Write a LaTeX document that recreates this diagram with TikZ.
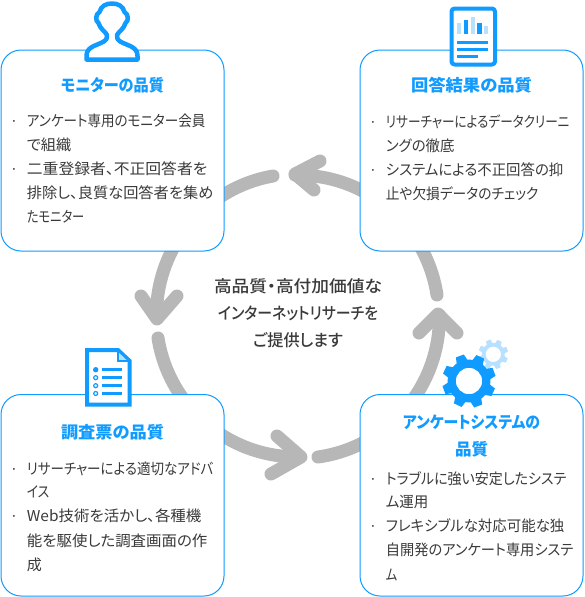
\documentclass[tikz,border=0pt]{standalone}
\usepackage{graphicx}
\usepackage{fontspec}
\setmainfont[RawFeature=+palt]{Noto Sans CJK JP}
\newfontfamily\qmedium[RawFeature=+palt]{Noto Sans CJK JP Medium}
\definecolor{qblue}{HTML}{0F9BFF}
\definecolor{qpale}{HTML}{B8E0FF}
\definecolor{qgray}{HTML}{B7B7B7}
\definecolor{qtext}{HTML}{3A3A3A}
\tikzset{
  x=1pt,y=-1pt,
  card/.style={draw=qblue,line width=1pt,fill=white,rounded corners=20pt},
  loopline/.style={draw=qgray,line width=13pt,line cap=round,line join=round},
  icon/.style={draw=qblue,line width=4.5pt,fill=white,line join=round,line cap=round},
  title/.style={text=qblue,font=\fontsize{16.5}{18}\selectfont\bfseries,anchor=base,inner sep=0pt},
  body/.style={text=qtext,font=\fontsize{15}{18}\selectfont,anchor=base west,inner sep=0pt},
  dotmark/.style={text=qtext,font=\fontsize{14}{18}\selectfont,anchor=base,inner sep=0pt},
  centertext/.style={text=qtext,font=\fontsize{16.5}{20}\selectfont\qmedium,anchor=base,inner sep=0pt},
}
\newsavebox{\qbox}
\newcommand{\fitw}[2]{\sbox{\qbox}{#2}\pgfmathsetmacro{\qratio}{#1/\wd\qbox}\scalebox{\qratio}[1]{\usebox{\qbox}}}
\newcommand{\qgear}[6]{% x,y,outer,root,hole,colour
  \begin{scope}[shift={(#1,#2)}]
    \fill[#6,even odd rule]
      (20-15:#4 pt)
      \foreach \a in {20,65,...,335}{
        -- (\a-15:#4 pt) -- (\a-9:#3 pt) -- (\a+9:#3 pt) -- (\a+15:#4 pt)
      } -- cycle
      (0,0) circle[radius=#5 pt];
  \end{scope}}
\begin{document}
\begin{tikzpicture}
\useasboundingbox (0,0) rectangle (584,597);
% loop
\coordinate (a1) at (273,176);
\coordinate (a2) at (158,338);
\coordinate (a3) at (318,457);
\coordinate (a4) at (437,295);
\draw[loopline] (a1) arc[start angle=100,end angle=181,radius=141pt];
\draw[loopline] (a2) arc[start angle=189,end angle=271,radius=141pt];
\draw[loopline] (a3) arc[start angle=278,end angle=361,radius=141pt];
\draw[loopline] (a4) arc[start angle=8.6,end angle=91,radius=141pt];
\coordinate (h1a) at (320,161); \coordinate (h1t) at (295,174); \coordinate (h1b) at (314,190);
\coordinate (h2a) at (141,296); \coordinate (h2t) at (157,319); \coordinate (h2b) at (177,296);
\coordinate (h3a) at (277,436); \coordinate (h3t) at (301,457); \coordinate (h3b) at (271,474);
\coordinate (h4a) at (419,333); \coordinate (h4t) at (438,314); \coordinate (h4b) at (457,333);
\draw[loopline] (h1a) -- (h1t) -- (h1b);
\draw[loopline] (h2a) -- (h2t) -- (h2b);
\draw[loopline] (h3a) -- (h3t) -- (h3b);
\draw[loopline] (h4a) -- (h4t) -- (h4b);
% cards
\draw[card] (1,50) rectangle (224,251);
\draw[card] (360,50) rectangle (583,251);
\draw[card] (1,394.5) rectangle (224,596);
\draw[card] (360,394.5) rectangle (583,596);
% person icon
\draw[icon] (112,3.5)
  .. controls (118,3.5) and (123,6) .. (124.5,12)
  .. controls (128.5,14) and (129,21) .. (125.5,23)
  .. controls (124,29) and (119,31) .. (117,35)
  .. controls (116,38) and (118,40) .. (121,42)
  .. controls (129,46) and (137.5,47) .. (137.5,56)
  -- (137.5,59.5) -- (86.5,59.5) -- (86.5,56)
  .. controls (86.5,47) and (95,46) .. (103,42)
  .. controls (106,40) and (108,38) .. (107,35)
  .. controls (105,31) and (100,29) .. (98.5,23)
  .. controls (95,21) and (95.5,14) .. (99.5,12)
  .. controls (101,6) and (106,3.5) .. (112,3.5) -- cycle;
% report icon
\draw[icon,line width=4pt,rounded corners=3pt] (451.5,8.5) rectangle (495,64.5);
\foreach \x/\t/\b/\c in {459/23/34/qpale,466/20/34/qblue,473/17/34/qpale,479.5/23/34/qblue,486/26/34/qpale}
  \fill[\c] (\x-2.2,\t) rectangle (\x+2.2,\b);
\fill[qblue] (457,41) rectangle (488,44);
\fill[qblue] (457,48) rectangle (488,51);
\fill[qblue] (457,55) rectangle (478,58);
% questionnaire icon
\draw[icon,line width=4pt,line join=miter] (87,350) -- (118,350) -- (129.7,361) -- (129.7,404.7) -- (87,404.7) -- cycle;
\fill[qpale] (118,350) -- (129.7,361) -- (118,361) -- cycle;
\draw[qblue,line width=2pt] (118,350) -- (118,361) -- (129.7,361);
\draw[qblue,line width=2.5pt] (118,350) -- (129.7,361);
\foreach \y/\k in {369.7/1,377.7/0,385.7/0,393.5/0}{
  \fill[qblue] (102,\y-1.5) rectangle (121.7,\y+1.5);
  \ifnum\k=1 \fill[qblue] (95.7,\y) circle[radius=2.7pt];
  \else \draw[qblue,line width=1.2pt,fill=white] (95.7,\y) circle[radius=2pt]; \fi
}
% gears
\qgear{493.3}{354.3}{15}{11.5}{7.7}{qpale}
\qgear{469}{381}{27}{21.5}{13.2}{qblue}
% titles
\node[title] (t1) at (112.5,91) {\fitw{103}{モニターの品質}};
\node[title] (t2) at (471.5,91) {\fitw{121}{回答結果の品質}};
\node[title] (t3) at (112.5,438) {\fitw{103}{調査票の品質}};
\node[title] (t4) at (471.5,428) {\fitw{137}{アンケートシステムの}};
\node[title] (t5) at (471.5,455) {\fitw{33}{品質}};
% card 1
\node[dotmark] (d11) at (14,126) {·};
\node[body] (b11) at (26.7,126) {\fitw{178.5}{アンケート専用のモニター会員}};
\node[body] (b12) at (26.7,150) {\fitw{44.5}{で組織}};
\node[dotmark] (d12) at (14,174.5) {·};
\node[body] (b13) at (26.7,174.5) {\fitw{180.5}{二重登録者、不正回答者を}};
\node[body] (b14) at (26.7,198.5) {\fitw{186.5}{排除し、良質な回答者を集め}};
\node[body] (b15) at (26.7,222) {\fitw{57.5}{たモニター}};
% card 2
\node[dotmark] (d21) at (373,127) {·};
\node[body] (b21) at (385.7,127) {\fitw{183.5}{リサーチャーによるデータクリーニ}};
\node[body] (b22) at (385.7,151) {\fitw{68.5}{ングの徹底}};
\node[dotmark] (d22) at (373,175) {·};
\node[body] (b23) at (385.7,175) {\fitw{177.5}{システムによる不正回答の抑}};
\node[body] (b24) at (385.7,199) {\fitw{152.5}{止や欠損データのチェック}};
% card 3
\node[dotmark] (d31) at (14,474) {·};
\node[body] (b31) at (26.7,474) {\fitw{186.5}{リサーチャーによる適切なアドバ}};
\node[body] (b32) at (26.7,497.5) {\fitw{22.5}{イス}};
\node[dotmark] (d32) at (14,521.5) {·};
\node[body] (b33) at (26.7,521.5) {\fitw{174.5}{Web技術を活かし、各種機}};
\node[body] (b34) at (26.7,546) {\fitw{180.5}{能を駆使した調査画面の作}};
\node[body] (b35) at (26.7,570) {\fitw{15}{成}};
% card 4
\node[dotmark] (d41) at (373,484) {·};
\node[body] (b41) at (385.7,484) {\fitw{180.5}{トラブルに強い安定したシステ}};
\node[body] (b42) at (385.7,507.5) {\fitw{42.5}{ム運用}};
\node[dotmark] (d42) at (373,531.5) {·};
\node[body] (b43) at (385.7,531.5) {\fitw{178.5}{フレキシブルな対応可能な独}};
\node[body] (b44) at (385.7,555.5) {\fitw{187.5}{自開発のアンケート専用システ}};
\node[body] (b45) at (385.7,580) {\fitw{11.5}{ム}};
% centre
\node[centertext] (c1) at (298,292.5) {\fitw{168}{高品質・高付加価値な}};
\node[centertext] (c2) at (298,319.5) {\fitw{160}{インターネットリサーチを}};
\node[centertext] (c3) at (298,346.5) {\fitw{90}{ご提供します}};
\end{tikzpicture}
\end{document}
